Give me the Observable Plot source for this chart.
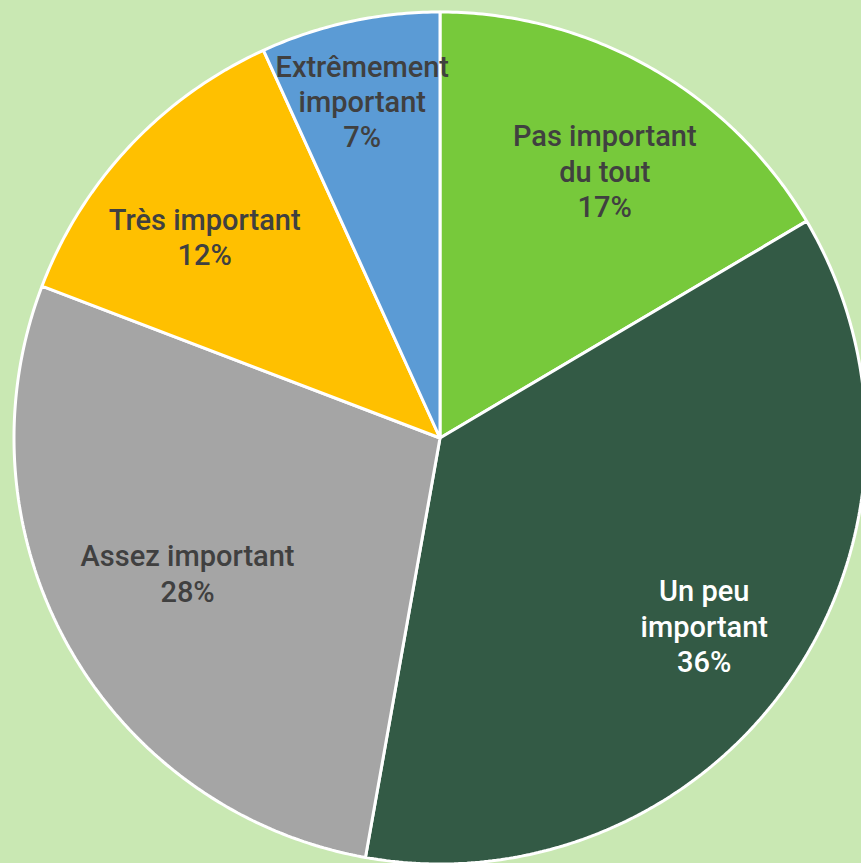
<!DOCTYPE html>
<html>
<head>
<meta charset="utf-8">
<script src="https://cdn.jsdelivr.net/npm/d3@7"></script>
<script src="https://cdn.jsdelivr.net/npm/@observablehq/plot@0.6"></script>
<style>
  html, body { margin: 0; padding: 0; background: #c9e8b3; overflow: hidden; }
  #chart svg { display: block; }
</style>
</head>
<body>
<div id="chart"></div>
<script>
// Data
const categories = ["Pas important du tout", "Un peu important", "Assez important", "Très important", "Extrêmement important"];
const labelLines = ["Pas important\ndu tout", "Un peu\nimportant", "Assez important", "Très important", "Extrêmement\nimportant"];
const percents = [16.5, 36.3, 28.0, 12.4, 6.8];

// Styles (label placement: radius fraction and angular nudge in degrees)
const colors = ["#77c93b", "#335a45", "#a5a5a5", "#ffc000", "#5b9bd5"];
const textColors = ["#404040", "#ffffff", "#404040", "#404040", "#404040"];
const labelRadius = [0.738, 0.759, 0.672, 0.729, 0.814];
const labelNudge = [1.8, 0.6, 1.6, -2.6, -0.8];

const W = 861, H = 863, cx = 440, cy = 438, R = 426;

const pie = d3.pie().sort(null).value(d => d.value)(
  categories.map((name, i) => ({name, value: percents[i], i}))
);

// Arc outline points for each wedge (geometry sampling of the slice edge)
const arcPts = [];
for (const p of pie) {
  const n = Math.max(2, Math.ceil((p.endAngle - p.startAngle) / 0.01));
  for (let k = 0; k <= n; k++) {
    const t = p.startAngle + (p.endAngle - p.startAngle) * k / n;
    arcPts.push({name: p.data.name, ax: Math.sin(t), ay: Math.cos(t), cx: 0, cy: 0});
  }
}

const labels = pie.map(p => {
  const i = p.data.i;
  const m = (p.startAngle + p.endAngle) / 2 + labelNudge[i] * Math.PI / 180;
  const r = labelRadius[i];
  return {
    name: p.data.name,
    x: r * Math.sin(m),
    y: r * Math.cos(m),
    text: labelLines[i] + "\n" + Math.round(p.data.value) + "%",
    color: textColors[i]
  };
});

const chart = Plot.plot({
  width: W,
  height: H,
  margin: 0,
  style: {background: "#c9e8b3", overflow: "visible"},
  x: {type: "linear", domain: [-1, 1], range: [cx - R, cx + R], axis: null},
  y: {type: "linear", domain: [-1, 1], range: [cy + R, cy - R], axis: null},
  color: {domain: categories, range: colors},
  marks: [
    Plot.area(arcPts, {
      x1: "ax", y1: "ay", x2: "cx", y2: "cy", z: "name",
      fill: "name", stroke: "white", strokeWidth: 3, strokeLinejoin: "miter"
    }),
    Plot.text(labels, {
      x: "x", y: "y", text: "text", fill: d => d.color,
      fontSize: 29, fontWeight: 500, fontFamily: "Roboto",
      lineHeight: 1.22, lineAnchor: "middle", textAnchor: "middle"
    })
  ]
});
document.getElementById("chart").append(chart);
</script>
</body>
</html>
